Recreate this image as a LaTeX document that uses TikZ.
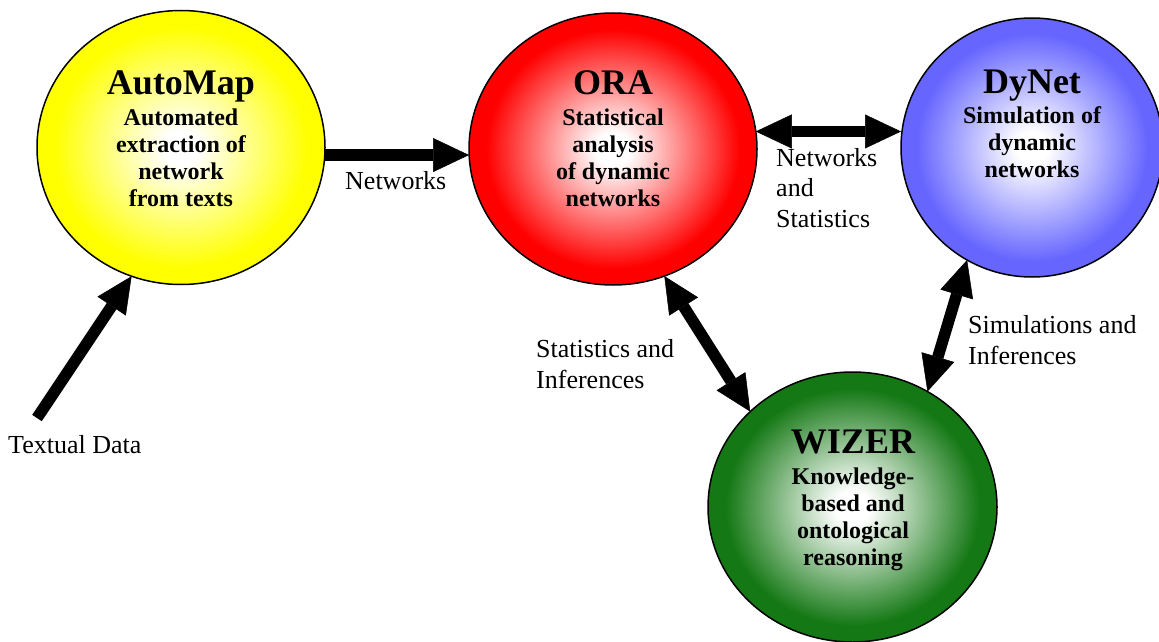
\documentclass[tikz,border=0pt]{standalone}
\usepackage{fontspec}
\setmainfont{Liberation Serif}
\usetikzlibrary{shapes.geometric,arrows.meta}
\definecolor{cY}{RGB}{255,255,0}
\definecolor{cR}{RGB}{255,0,0}
\definecolor{cB}{RGB}{102,102,255}
\definecolor{cG}{RGB}{20,120,20}
\pgfdeclareradialshading{shY}{\pgfpoint{0bp}{0bp}}{color(0bp)=(white); color(3bp)=(white); color(22bp)=(cY); color(50bp)=(cY)}
\pgfdeclareradialshading{shR}{\pgfpoint{0bp}{0bp}}{color(0bp)=(white); color(3bp)=(white); color(22bp)=(cR); color(50bp)=(cR)}
\pgfdeclareradialshading{shB}{\pgfpoint{0bp}{0bp}}{color(0bp)=(white); color(3bp)=(white); color(22bp)=(cB); color(50bp)=(cB)}
\pgfdeclareradialshading{shG}{\pgfpoint{0bp}{0bp}}{color(0bp)=(white); color(3bp)=(white); color(22bp)=(cG); color(50bp)=(cG)}
\tikzset{
  bubble/.style={ellipse, draw=black, line width=1.5pt, inner sep=0pt, outer sep=0pt,
    minimum width=288pt, minimum height=274pt},
  ttl/.style={font=\fontsize{36}{40}\selectfont\bfseries, anchor=base, inner sep=0pt},
  subtxt/.style={font=\fontsize{24}{27}\selectfont\bfseries, align=center, anchor=base, inner sep=0pt},
  lbl/.style={font=\fontsize{26}{30.5}\selectfont, align=left, anchor=base west, inner sep=0pt},
  bigarrow/.style={line width=11.5pt, -{Triangle[length=36pt,width=34pt,line width=0.5pt]}},
  dblarrow/.style={line width=11.5pt, {Triangle[length=36pt,width=34pt,line width=0.5pt]}-{Triangle[length=36pt,width=34pt,line width=0.5pt]}}
}
\begin{document}
\begin{tikzpicture}[x=1pt,y=-1pt]
\useasboundingbox (0,0) rectangle (1159,642);
% bubbles
\node[bubble, shading=shY] (automap) at (181,147.5) {};
\node[bubble, shading=shR, minimum height=272pt] (ora) at (613,149) {};
\node[bubble, shading=shB, minimum width=262pt, minimum height=259pt] (dynet) at (1032,147.5) {};
\node[bubble, shading=shG, minimum width=289pt, minimum height=270pt] (wizer) at (852.5,507) {};
% texts in bubbles (base = baseline of last line)
\node[ttl] (automapT) at (181,94) {AutoMap};
\node[subtxt] (automapS) at (181,206) {Automated\\extraction of\\network\\from texts};
\node[ttl] (oraT) at (613,94) {ORA};
\node[subtxt] (oraS) at (613,206) {Statistical\\analysis\\of dynamic\\networks};
\node[ttl] (dynetT) at (1032,93) {DyNet};
\node[subtxt] (dynetS) at (1032,177) {Simulation of\\dynamic\\networks};
\node[ttl] (wizerT) at (853,453) {WIZER};
\node[subtxt] (wizerS) at (853,565) {Knowledge-\\based and\\ontological\\reasoning};
% labels
\node[lbl] (lNet) at (345,189) {Networks};
\node[lbl] (lNS) at (776,227) {Networks\\and\\Statistics};
\node[lbl] (lSI) at (536,388) {Statistics and\\Inferences};
\node[lbl] (lSim) at (968,364) {Simulations and\\Inferences};
\node[lbl] (lTD) at (8,453) {Textual Data};
% connectors
\coordinate (td) at (37,418);
\draw[bigarrow] (td) -- (automap.249.7);
\draw[bigarrow] (automap.-3) -- (automap.-3 -| ora.west);
\draw[dblarrow] (ora.7.1) -- (ora.7.1 -| dynet.west);
\draw[dblarrow] (ora.-68.7) -- (wizer.137.6);
\draw[dblarrow] (dynet.240.4) -- (wizer.57.5);
\end{tikzpicture}
\end{document}
